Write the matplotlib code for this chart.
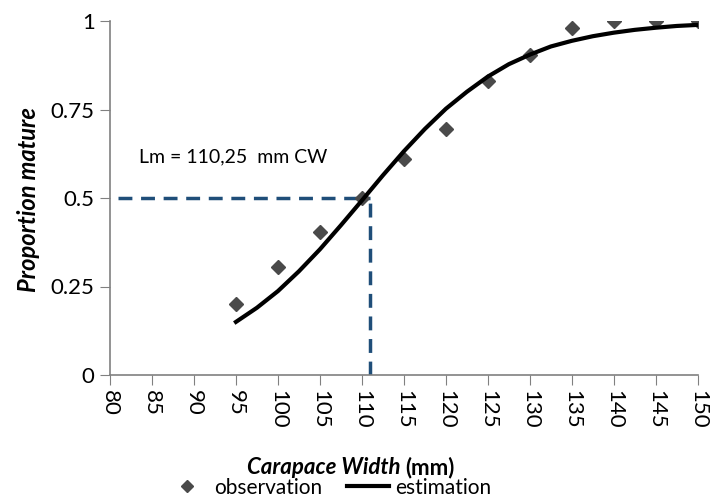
import numpy as np
import matplotlib.pyplot as plt
from matplotlib.lines import Line2D

plt.rcParams['font.family'] = ['Lato', 'DejaVu Sans']

# observed proportion mature
obs_cw = [95, 100, 105, 110, 115, 120, 125, 130, 135, 140, 145, 150]
obs_p = [0.20, 0.305, 0.405, 0.50, 0.61, 0.695, 0.83, 0.905, 0.98, 1.0, 1.0, 1.0]

# estimated curve
est_cw = [95, 97.5, 100, 102.5, 105, 107.5, 110, 112.5, 115, 117.5, 120, 122.5,
          125, 127.5, 130, 132.5, 135, 137.5, 140, 142.5, 145, 147.5, 150]
est_p = [0.15, 0.19, 0.237, 0.293, 0.355, 0.423, 0.493, 0.564, 0.632, 0.695, 0.752, 0.80,
         0.843, 0.878, 0.905, 0.928, 0.944, 0.957, 0.967, 0.975, 0.981, 0.986, 0.989]

# Lm drop line as drawn in the figure
lm_x = 111
xticks = list(range(80, 151, 5))
yticks = [0, 0.25, 0.5, 0.75, 1]
ytick_labels = ['0', '0.25', '0.5', '0.75', '1']

fig = plt.figure(figsize=(7.12, 5), dpi=100)
ax = fig.add_axes([0.1545, 0.25, 0.8255, 0.708])

ax.plot([81, lm_x], [0.5, 0.5], color='#1f4e79', lw=2.5, dashes=(4, 2.5))
ax.plot([lm_x, lm_x], [0, 0.5], color='#1f4e79', lw=2.5, dashes=(4, 2.5))
ax.plot(obs_cw, obs_p, 'D', color='#4a4a4a', markersize=7, zorder=3)
ax.plot(est_cw, est_p, color='black', lw=3, zorder=4)

ax.text(83.5, 0.615, 'Lm = 110,25  mm CW', fontsize=14, va='center')

ax.set_xlim(80, 150)
ax.set_ylim(0, 1)
ax.set_xticks(xticks)
ax.set_xticklabels([str(v) for v in xticks], rotation=-90, fontsize=16)
ax.set_yticks(yticks)
ax.set_yticklabels(ytick_labels, fontsize=16)
ax.tick_params(direction='out', length=7, color='#808080', pad=4)
for s in ['top', 'right']:
    ax.spines[s].set_visible(False)
for s in ['left', 'bottom']:
    ax.spines[s].set_color('#808080')
    ax.spines[s].set_linewidth(1.2)

fig.text(0.040, 0.60, 'Proportion mature', rotation=90, fontsize=17,
         fontweight='bold', fontstyle='italic', ha='center', va='center')
fig.text(0.562, 0.064, 'Carapace Width', fontsize=16, fontweight='bold',
         fontstyle='italic', ha='right', va='center')
fig.text(0.569, 0.064, '(mm)', fontsize=16, fontweight='bold', ha='left', va='center')

handles = [Line2D([], [], marker='D', color='#4a4a4a', ls='none', markersize=6),
           Line2D([], [], color='black', lw=3)]
fig.legend(handles, ['observation', 'estimation'], loc='center', ncol=2,
           bbox_to_anchor=(0.462, 0.025), frameon=False, fontsize=15,
           handlelength=2.0, handletextpad=0.3, columnspacing=1.2)

fig.savefig('out.png', dpi=100)
